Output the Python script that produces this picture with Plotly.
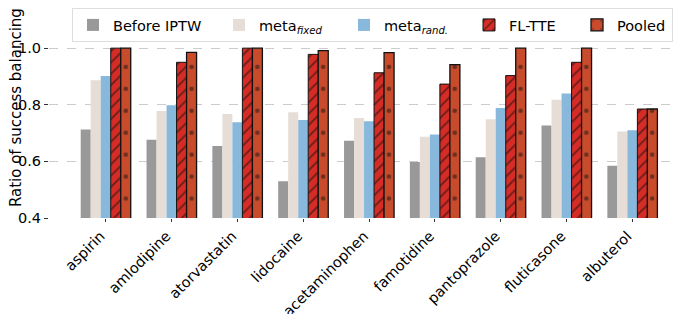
import plotly.graph_objects as go

drugs = ["aspirin", "amlodipine", "atorvastatin", "lidocaine", "acetaminophen",
         "famotidine", "pantoprazole", "fluticasone", "albuterol"]
before_iptw = [0.713, 0.676, 0.654, 0.530, 0.673, 0.598, 0.615, 0.727, 0.585]
meta_fixed = [0.887, 0.778, 0.767, 0.774, 0.753, 0.687, 0.749, 0.818, 0.706]
meta_rand = [0.902, 0.798, 0.738, 0.746, 0.742, 0.695, 0.789, 0.840, 0.710]
fl_tte = [1.0, 0.950, 1.0, 0.978, 0.913, 0.873, 0.903, 0.950, 0.785]
pooled = [1.0, 0.985, 1.0, 0.991, 0.984, 0.942, 1.0, 1.0, 0.785]
y_ticks = [0.4, 0.6, 0.8, 1.0]

font = "DejaVu Sans"
fig = go.Figure()
fig.add_bar(x=drugs, y=before_iptw, name="Before IPTW", legendwidth=101,
            marker=dict(color="#999999", line=dict(width=0)))
fig.add_bar(x=drugs, y=meta_fixed, name="meta<sub><i>fixed</i></sub>", legendwidth=80,
            marker=dict(color="#e6ddd6", line=dict(width=0)))
fig.add_bar(x=drugs, y=meta_rand, name="meta<sub><i>rand.</i></sub>", legendwidth=80,
            marker=dict(color="#88b9dc", line=dict(width=0)))
fig.add_bar(x=drugs, y=fl_tte, name="FL-TTE", legendwidth=63,
            marker=dict(color="#d62c26", line=dict(width=1, color="#111111"),
                        pattern=dict(shape="/", fgcolor="#111111", size=8, solidity=0.25)))
fig.add_bar(x=drugs, y=pooled, name="Pooled", legendwidth=50,
            marker=dict(color="#c84b2c", line=dict(width=1.3, color="#111111"),
                        pattern=dict(shape=".", fgcolor="#111111", size=65.8 / 3, solidity=0.035)))

PX = 65.8            # pixels per category
L = 41.3             # left margin (figure px)
plot_w = 677 - L
xmin = -(98 - L) / PX
xmax = xmin + plot_w / PX

# page body adds an 8px offset, so the figure is sized to fit the window
fig.update_layout(
    width=677, height=306,
    margin=dict(l=L, r=0, t=26, b=96.4, autoexpand=False),
    paper_bgcolor="white", plot_bgcolor="white",
    barmode="group", bargap=0.24, bargroupgap=0,
    font=dict(family=font, size=14.5, color="black"),
    legend=dict(orientation="h", xref="container", yref="container",
                x=64/677, y=1.0, xanchor="left", yanchor="top",
                bgcolor="white", bordercolor="#dddddd", borderwidth=1,
                font=dict(size=14.5), itemwidth=30, traceorder="normal"),
    showlegend=True,
    annotations=[dict(text="Ratio of success balancing", textangle=-90,
                      xref="paper", yref="paper", x=0, y=0.600,
                      xshift=-33.5, xanchor="center", yanchor="middle",
                      showarrow=False, font=dict(size=15, family=font, color="black"))],
)
fig.update_xaxes(range=[xmin, xmax], showline=False, showgrid=False,
                 automargin=False,
                 ticks="outside", ticklen=3, tickcolor="#333333",
                 tickangle=-45, tickfont=dict(size=14.5), ticklabelshift=-5)
fig.update_yaxes(range=[0.4, 1.05], tickvals=y_ticks,
                 ticktext=["0.4", "0.6", "0.8", "1.0"],
                 showline=False, zeroline=False, automargin=False,
                 showgrid=True, gridcolor="#cccccc", griddash="dash", gridwidth=1,
                 ticks="outside", ticklen=4, tickcolor="#333333",
                 tickfont=dict(size=14.5))

fig.write_html("out.html")
